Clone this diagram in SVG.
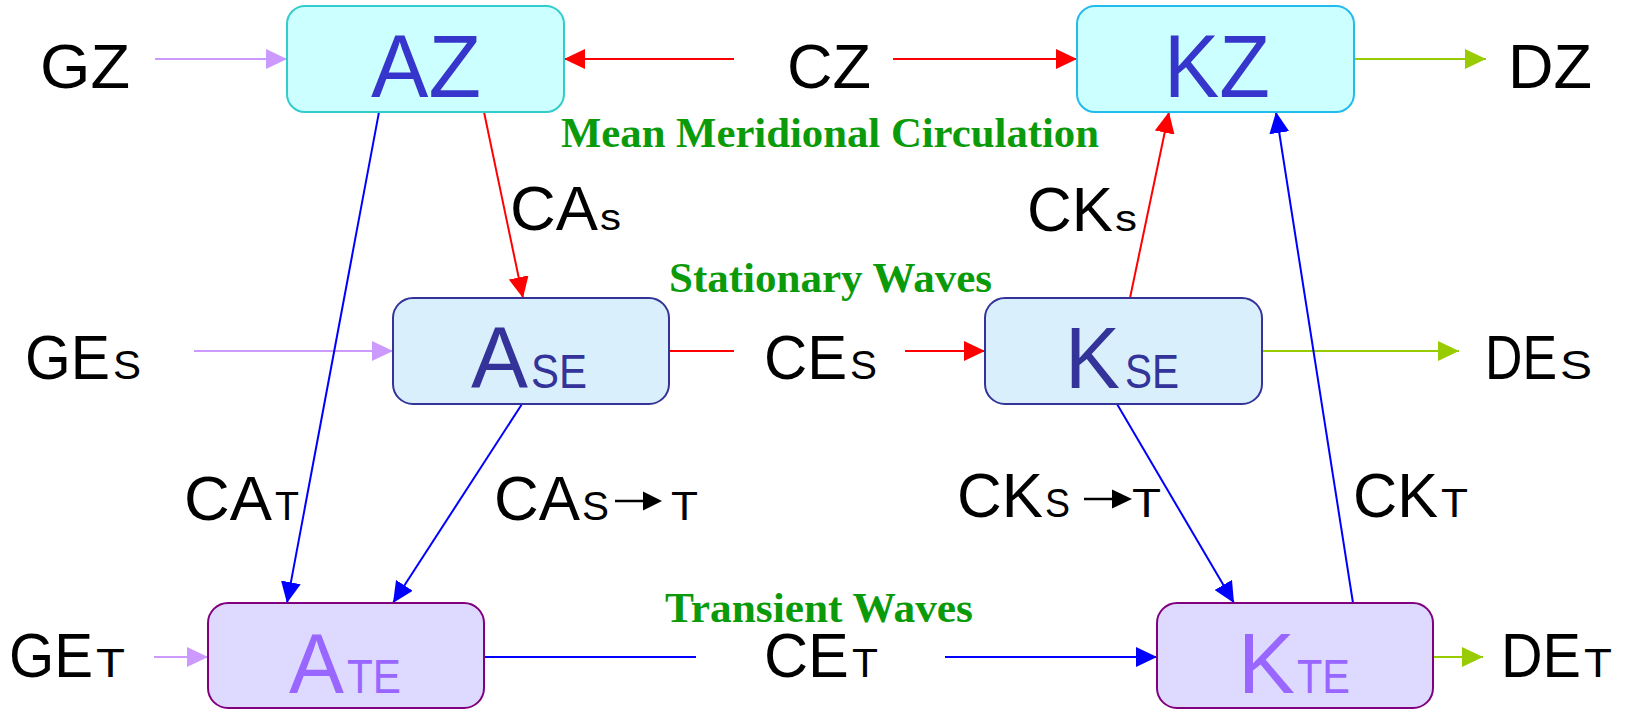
<svg xmlns="http://www.w3.org/2000/svg" width="1625" height="710" viewBox="0 0 1625 710">
<style>
.lbl{font-family:"Liberation Sans",Arial,sans-serif;font-size:63px;fill:#000}
.sub{font-size:41px}
.subs{font-size:36px}
.head{font-family:"Liberation Serif","Times New Roman",serif;font-weight:bold;font-size:42px;fill:#0A9A0A}
.big{font-family:"Liberation Sans",Arial,sans-serif;font-size:89px}
.bsub{font-size:49px}
.zbox{fill:#CCFFFF;stroke-width:2}
.sbox{fill:#D9F0FC;stroke:#333399;stroke-width:2}
.tbox{fill:#DED9FF;stroke:#800080;stroke-width:2}
.ztxt{fill:#3636CC}
.stxt{fill:#333399}
.ttxt{fill:#9966FF}
.c{fill:none;stroke-width:2}
.lav{stroke:#CC99FF}
.red{stroke:#FF0000}
.grn{stroke:#99CC00}
.blu{stroke:#0000FF}
</style>
<defs>
<marker id="mLav" markerUnits="userSpaceOnUse" viewBox="0 0 21 20" markerWidth="21" markerHeight="20" refX="21" refY="10" orient="auto"><path d="M0,0 L21,10 L0,20 Z" fill="#CC99FF"/></marker>
<marker id="mRed" markerUnits="userSpaceOnUse" viewBox="0 0 21 20" markerWidth="21" markerHeight="20" refX="21" refY="10" orient="auto"><path d="M0,0 L21,10 L0,20 Z" fill="#FF0000"/></marker>
<marker id="mGrn" markerUnits="userSpaceOnUse" viewBox="0 0 21 20" markerWidth="21" markerHeight="20" refX="21" refY="10" orient="auto"><path d="M0,0 L21,10 L0,20 Z" fill="#99CC00"/></marker>
<marker id="mBlu" markerUnits="userSpaceOnUse" viewBox="0 0 21 20" markerWidth="21" markerHeight="20" refX="21" refY="10" orient="auto"><path d="M0,0 L21,10 L0,20 Z" fill="#0000FF"/></marker>
</defs>
<rect width="1625" height="710" fill="#FFFFFF"/>

<g id="connectors">
<line class="c lav" x1="155" y1="59" x2="287" y2="59" marker-end="url(#mLav)"/>
<line class="c red" x1="734" y1="59" x2="564" y2="59" marker-end="url(#mRed)"/>
<line class="c red" x1="893" y1="59" x2="1077" y2="59" marker-end="url(#mRed)"/>
<line class="c grn" x1="1355" y1="59" x2="1486" y2="59" marker-end="url(#mGrn)"/>
<line class="c lav" x1="194" y1="351" x2="393" y2="351" marker-end="url(#mLav)"/>
<line class="c red" x1="669" y1="351" x2="734" y2="351"/>
<line class="c red" x1="905" y1="351" x2="985" y2="351" marker-end="url(#mRed)"/>
<line class="c grn" x1="1262" y1="351" x2="1459" y2="351" marker-end="url(#mGrn)"/>
<line class="c lav" x1="154" y1="657" x2="208" y2="657" marker-end="url(#mLav)"/>
<line class="c blu" x1="484" y1="657" x2="696" y2="657"/>
<line class="c blu" x1="945" y1="657" x2="1157" y2="657" marker-end="url(#mBlu)"/>
<line class="c grn" x1="1433" y1="657" x2="1483" y2="657" marker-end="url(#mGrn)"/>
<line class="c blu" x1="379" y1="112" x2="287" y2="603" marker-end="url(#mBlu)"/>
<line class="c red" x1="484" y1="112" x2="523" y2="298" marker-end="url(#mRed)"/>
<line class="c blu" x1="522" y1="404" x2="393" y2="603" marker-end="url(#mBlu)"/>
<line class="c red" x1="1130" y1="298" x2="1169" y2="112" marker-end="url(#mRed)"/>
<line class="c blu" x1="1117" y1="404" x2="1234" y2="603" marker-end="url(#mBlu)"/>
<line class="c blu" x1="1353" y1="603" x2="1276" y2="112" marker-end="url(#mBlu)"/>
</g>

<g id="AZ">
<rect class="zbox" x="287" y="6" width="277" height="106" rx="18" stroke="#33CCCC"/>
<text class="big ztxt" x="371" y="97" textLength="110" lengthAdjust="spacingAndGlyphs">AZ</text>
</g>
<g id="KZ">
<rect class="zbox" x="1077" y="6" width="277" height="106" rx="18" stroke="#22BBEE"/>
<text class="big ztxt" x="1164" y="97" textLength="106" lengthAdjust="spacingAndGlyphs">KZ</text>
</g>
<g id="ASE">
<rect class="sbox" x="393" y="298" width="276" height="106" rx="20"/>
<text class="big stxt" x="471" y="388"><tspan font-size="88" textLength="57" lengthAdjust="spacingAndGlyphs">A</tspan><tspan class="bsub" x="531" textLength="56" lengthAdjust="spacingAndGlyphs">SE</tspan></text>
</g>
<g id="KSE">
<rect class="sbox" x="985" y="298" width="277" height="106" rx="20"/>
<text class="big stxt" x="1065" y="388"><tspan font-size="88" textLength="55" lengthAdjust="spacingAndGlyphs">K</tspan><tspan class="bsub" x="1125" textLength="54" lengthAdjust="spacingAndGlyphs">SE</tspan></text>
</g>
<g id="ATE">
<rect class="tbox" x="208" y="603" width="276" height="105" rx="20"/>
<text class="big ttxt" x="289" y="693"><tspan font-size="85" textLength="55" lengthAdjust="spacingAndGlyphs">A</tspan><tspan class="bsub" x="347" textLength="54" lengthAdjust="spacingAndGlyphs">TE</tspan></text>
</g>
<g id="KTE">
<rect class="tbox" x="1157" y="603" width="276" height="105" rx="20"/>
<text class="big ttxt" x="1238" y="693"><tspan font-size="85" textLength="57" lengthAdjust="spacingAndGlyphs">K</tspan><tspan class="bsub" x="1297" textLength="53" lengthAdjust="spacingAndGlyphs">TE</tspan></text>
</g>

<g id="labels">
<text class="lbl" x="40" y="88" textLength="90" lengthAdjust="spacingAndGlyphs">GZ</text>
<text class="lbl" x="787" y="88" textLength="84" lengthAdjust="spacingAndGlyphs">CZ</text>
<text class="lbl" x="1508" y="88" textLength="84" lengthAdjust="spacingAndGlyphs">DZ</text>

<text class="lbl" transform="translate(25,379) scale(0.934,1)"><tspan x="0">GE</tspan><tspan class="sub" x="94.2" textLength="30" lengthAdjust="spacingAndGlyphs">S</tspan></text>
<text class="lbl" transform="translate(764,379) scale(0.95,1)"><tspan x="0">CE</tspan><tspan class="sub" x="90.5" textLength="28.4" lengthAdjust="spacingAndGlyphs">S</tspan></text>
<text class="lbl" transform="translate(1485,379) scale(0.823,1)"><tspan x="0">DE</tspan><tspan class="sub" x="91.1" textLength="39" lengthAdjust="spacingAndGlyphs">S</tspan></text>

<text class="lbl" transform="translate(9,677) scale(0.923,1)"><tspan x="0">GE</tspan><tspan class="sub" x="94.3" textLength="31.4" lengthAdjust="spacingAndGlyphs">T</tspan></text>
<text class="lbl" transform="translate(764,677) scale(0.97,1)"><tspan x="0">CE</tspan><tspan class="sub" x="90.7" textLength="26.8" lengthAdjust="spacingAndGlyphs">T</tspan></text>
<text class="lbl" transform="translate(1501,677) scale(0.914,1)"><tspan x="0">DE</tspan><tspan class="sub" x="90.8" textLength="30.6" lengthAdjust="spacingAndGlyphs">T</tspan></text>

<text class="lbl" x="510" y="230"><tspan textLength="88" lengthAdjust="spacingAndGlyphs">CA</tspan><tspan class="subs" x="600" textLength="21" lengthAdjust="spacingAndGlyphs">s</tspan></text>
<text class="lbl" x="1027" y="231"><tspan textLength="86" lengthAdjust="spacingAndGlyphs">CK</tspan><tspan class="subs" x="1115" textLength="22" lengthAdjust="spacingAndGlyphs">s</tspan></text>

<text class="lbl" x="184" y="520"><tspan textLength="88" lengthAdjust="spacingAndGlyphs">CA</tspan><tspan class="sub" x="275" textLength="24" lengthAdjust="spacingAndGlyphs">T</tspan></text>
<text class="lbl" x="1353" y="517"><tspan textLength="85" lengthAdjust="spacingAndGlyphs">CK</tspan><tspan class="sub" x="1441" textLength="27" lengthAdjust="spacingAndGlyphs">T</tspan></text>

<text class="lbl" x="494" y="520"><tspan textLength="86" lengthAdjust="spacingAndGlyphs">CA</tspan><tspan class="sub" x="582" textLength="27" lengthAdjust="spacingAndGlyphs">S</tspan><tspan class="sub" x="671" textLength="27" lengthAdjust="spacingAndGlyphs">T</tspan></text>
<line x1="615" y1="501" x2="646" y2="501" stroke="#000" stroke-width="2.5"/>
<path d="M643,491.5 L662,501 L643,510.5 Z" fill="#000"/>

<text class="lbl" x="957" y="517"><tspan textLength="86" lengthAdjust="spacingAndGlyphs">CK</tspan><tspan class="sub" x="1045" textLength="25" lengthAdjust="spacingAndGlyphs">S</tspan><tspan class="sub" x="1132" textLength="29" lengthAdjust="spacingAndGlyphs">T</tspan></text>
<line x1="1084" y1="499" x2="1115" y2="499" stroke="#000" stroke-width="2.5"/>
<path d="M1112,489.5 L1132,499 L1112,508.5 Z" fill="#000"/>

<text class="head" x="561" y="147" textLength="538" lengthAdjust="spacingAndGlyphs">Mean Meridional Circulation</text>
<text class="head" x="669" y="292" textLength="323" lengthAdjust="spacingAndGlyphs">Stationary Waves</text>
<text class="head" x="665" y="622" textLength="308" lengthAdjust="spacingAndGlyphs">Transient Waves</text>
</g>
</svg>
